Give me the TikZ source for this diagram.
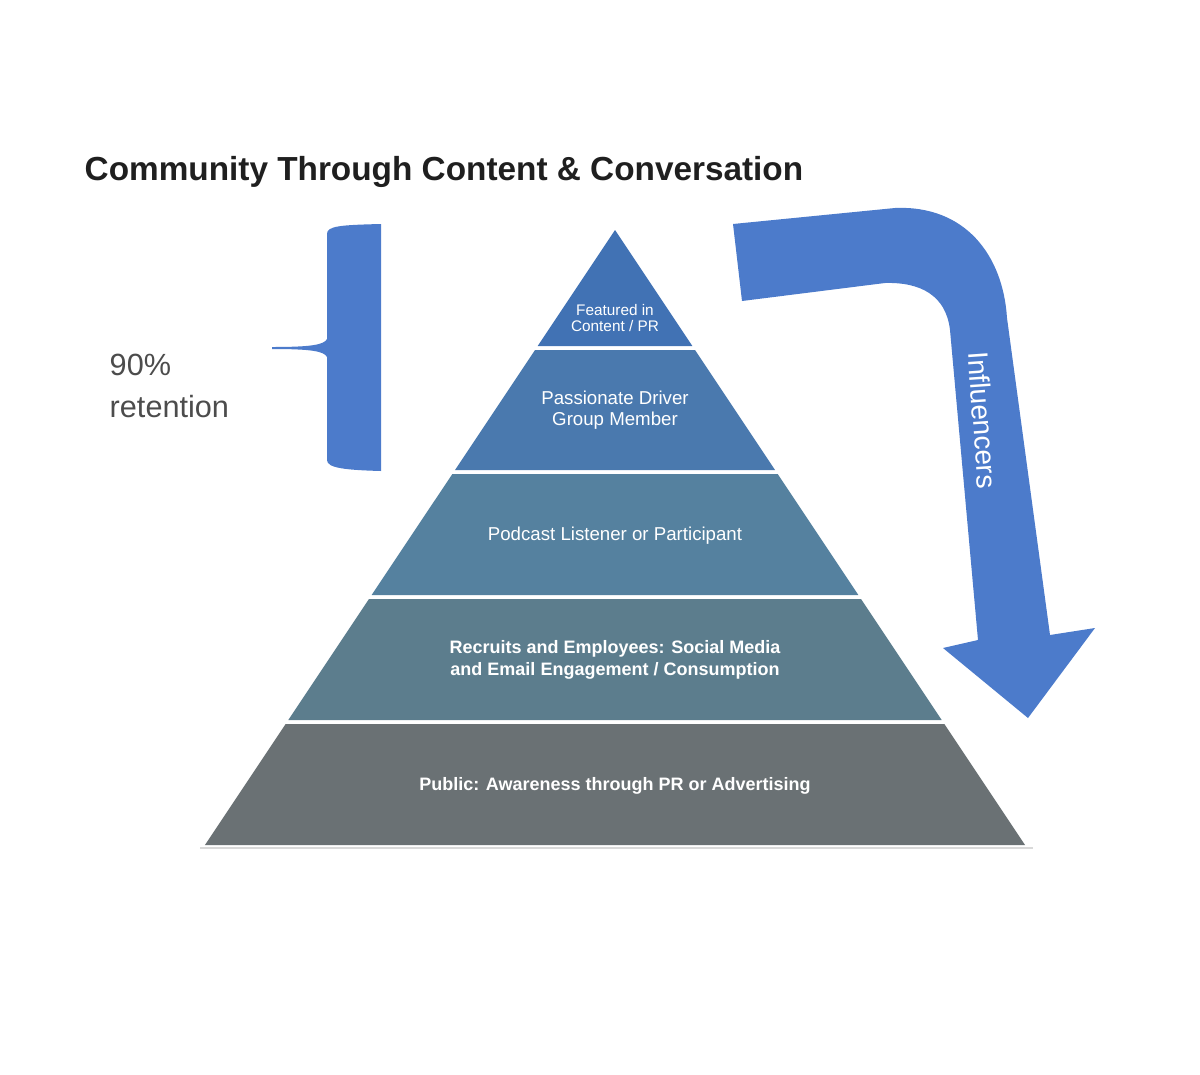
\documentclass[tikz,border=0pt]{standalone}
\usepackage{fontspec}
\setmainfont{Liberation Sans}
\begin{document}
\begin{tikzpicture}[x=0.75pt,y=-0.75pt,
  lay/.style={draw=none},
  lbl/.style={text=white,align=center,font=\fontsize{14}{16}\selectfont},
  blbl/.style={text=white,align=center,font=\fontsize{13.5}{16}\bfseries\selectfont},
  blue/.style={fill=arrowblue,draw=none}]
\definecolor{arrowblue}{HTML}{4C7BCB}
\definecolor{c1}{HTML}{4172B4}
\definecolor{c2}{HTML}{4A79AE}
\definecolor{c3}{HTML}{55819F}
\definecolor{c4}{HTML}{5C7D8D}
\definecolor{c5}{HTML}{6A7174}
\useasboundingbox (0,0) rectangle (1200,1075);
% pyramid: left x = 615 - 0.6667*(y-230)
\def\L#1{({615-0.6667*(#1-230)},#1)}
\def\R#1{({615+0.6667*(#1-230)},#1)}
\fill[c1] (615,230) -- \R{346} -- \L{346} -- cycle;
\fill[c2] \L{350} -- \R{350} -- \R{470} -- \L{470} -- cycle;
\fill[c3] \L{474} -- \R{474} -- \R{595} -- \L{595} -- cycle;
\fill[c4] \L{599} -- \R{599} -- \R{720} -- \L{720} -- cycle;
\fill[c5] \L{724} -- \R{724} -- \R{845} -- \L{845} -- cycle;
\draw[black!15,line width=2] (200,848) -- (1033,848);
\node[lbl,font=\fontsize{11.5}{12}\selectfont] (t1) at (615,318) {Featured in\\Content / PR};
\node[lbl] (t2) at (615,410) {Passionate Driver\\Group Member};
\node[lbl] (t3) at (615,536) {Podcast Listener or Participant};
\node[blbl] (t4) at (615,660) {Recruits and Employees: Social Media\\and Email Engagement / Consumption};
\node[blbl] (t5) at (615,786) {Public: Awareness through PR or Advertising};
% title
\node[anchor=west,text=black!88,font=\fontsize{25}{28}\bfseries\selectfont] (title) at (80,172) {Community Through Content \& Conversation};
% bracket
\fill[arrowblue] (327,234) .. controls (327,226) and (340,225) .. (381,224) -- (381,471)
  .. controls (345,470) and (327,468) .. (327,460) -- (327,357)
  .. controls (324,351) and (310,349) .. (272,349) -- (272,347)
  .. controls (310,347) and (324,345) .. (327,339) -- cycle;
\node[anchor=west,text=black!70,align=left,font=\fontsize{23}{32}\selectfont] (ret) at (105,386) {90\%\\retention};
% arrow
\fill[arrowblue] (733,224) -- (895,208) .. controls (965,205) and (1003,255) .. (1007,318)
  -- (1050,635) -- (1095,628) -- (1028,718) -- (943,648) -- (978,640)
  -- (950,330) .. controls (946,295) and (920,282) .. (885,283) -- (742,301) -- cycle;
\node[rotate=-86,text=white,font=\fontsize{21}{24}\selectfont] (inf) at (983,420) {Influencers};
\end{tikzpicture}
\end{document}
